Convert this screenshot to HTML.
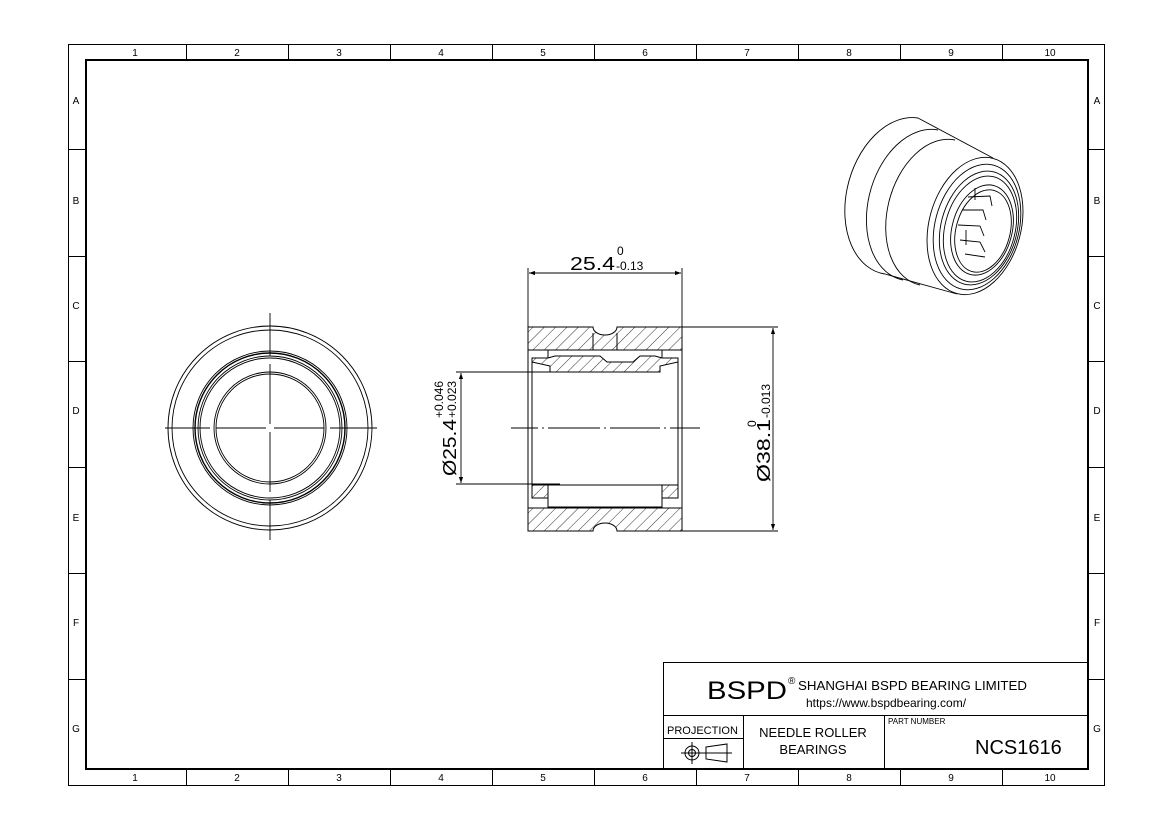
<!DOCTYPE html>
<html><head><meta charset="utf-8"><style>
html,body{margin:0;padding:0;background:#fff;}
svg{display:block;font-family:"Liberation Sans",Arial,sans-serif;}
</style></head><body>
<svg width="1170" height="827" viewBox="0 0 1170 827" xmlns="http://www.w3.org/2000/svg">
<defs>
<pattern id="h" patternUnits="userSpaceOnUse" width="8" height="8" patternTransform="rotate(45)">
<line x1="0" y1="0" x2="0" y2="8" stroke="#000" stroke-width="0.8"/>
</pattern>
<marker id="ar" viewBox="0 0 10 10" refX="10" refY="5" markerWidth="10" markerHeight="6" orient="auto-start-reverse" markerUnits="userSpaceOnUse"><path d="M0,1.5 L10,5 L0,8.5z" fill="#000"/></marker>
</defs>
<rect x="68.5" y="44.5" width="1036" height="741" fill="none" stroke="#000" stroke-width="1"/>
<rect x="86" y="60" width="1002" height="709" fill="none" stroke="#000" stroke-width="2"/>
<g stroke="#000" stroke-width="1">
<line x1="186.5" y1="44" x2="186.5" y2="60"/><line x1="288.5" y1="44" x2="288.5" y2="60"/><line x1="390.5" y1="44" x2="390.5" y2="60"/><line x1="492.5" y1="44" x2="492.5" y2="60"/><line x1="594.5" y1="44" x2="594.5" y2="60"/><line x1="696.5" y1="44" x2="696.5" y2="60"/><line x1="798.5" y1="44" x2="798.5" y2="60"/><line x1="900.5" y1="44" x2="900.5" y2="60"/><line x1="1002.5" y1="44" x2="1002.5" y2="60"/>
<line x1="186.5" y1="769" x2="186.5" y2="785"/><line x1="288.5" y1="769" x2="288.5" y2="785"/><line x1="390.5" y1="769" x2="390.5" y2="785"/><line x1="492.5" y1="769" x2="492.5" y2="785"/><line x1="594.5" y1="769" x2="594.5" y2="785"/><line x1="696.5" y1="769" x2="696.5" y2="785"/><line x1="798.5" y1="769" x2="798.5" y2="785"/><line x1="900.5" y1="769" x2="900.5" y2="785"/><line x1="1002.5" y1="769" x2="1002.5" y2="785"/>
<line x1="68" y1="149.5" x2="86" y2="149.5"/><line x1="68" y1="256.5" x2="86" y2="256.5"/><line x1="68" y1="361.5" x2="86" y2="361.5"/><line x1="68" y1="467.5" x2="86" y2="467.5"/><line x1="68" y1="573.5" x2="86" y2="573.5"/><line x1="68" y1="679.5" x2="86" y2="679.5"/>
<line x1="1088" y1="149.5" x2="1104" y2="149.5"/><line x1="1088" y1="256.5" x2="1104" y2="256.5"/><line x1="1088" y1="361.5" x2="1104" y2="361.5"/><line x1="1088" y1="467.5" x2="1104" y2="467.5"/><line x1="1088" y1="573.5" x2="1104" y2="573.5"/><line x1="1088" y1="679.5" x2="1104" y2="679.5"/>
</g>
<g font-size="10" text-anchor="middle">
<text x="135" y="56">1</text><text x="237" y="56">2</text><text x="339" y="56">3</text><text x="441" y="56">4</text><text x="543" y="56">5</text><text x="645" y="56">6</text><text x="747" y="56">7</text><text x="849" y="56">8</text><text x="951" y="56">9</text><text x="1050" y="56">10</text>
<text x="135" y="781">1</text><text x="237" y="781">2</text><text x="339" y="781">3</text><text x="441" y="781">4</text><text x="543" y="781">5</text><text x="645" y="781">6</text><text x="747" y="781">7</text><text x="849" y="781">8</text><text x="951" y="781">9</text><text x="1050" y="781">10</text>
<text x="76" y="104">A</text><text x="76" y="204">B</text><text x="76" y="309">C</text><text x="76" y="414">D</text><text x="76" y="521">E</text><text x="76" y="626">F</text><text x="76" y="732">G</text>
<text x="1097" y="104">A</text><text x="1097" y="204">B</text><text x="1097" y="309">C</text><text x="1097" y="414">D</text><text x="1097" y="521">E</text><text x="1097" y="626">F</text><text x="1097" y="732">G</text>
</g>

<g fill="none" stroke="#000" stroke-width="0.9">
<circle cx="270" cy="428" r="102"/><circle cx="270" cy="428" r="98"/>
<circle cx="270" cy="428" r="77"/><circle cx="270" cy="428" r="75" stroke-width="1.4"/><circle cx="270" cy="428" r="72"/><circle cx="270" cy="428" r="70"/>
<circle cx="270" cy="428" r="56"/><circle cx="270" cy="428" r="54"/>
<line x1="270" y1="313" x2="270" y2="356"/><line x1="270" y1="364" x2="270" y2="424"/><line x1="270" y1="432" x2="270" y2="492"/><line x1="270" y1="500" x2="270" y2="540"/>
<line x1="165" y1="428" x2="210" y2="428"/><line x1="216" y1="428" x2="266" y2="428"/><line x1="274" y1="428" x2="324" y2="428"/><line x1="330" y1="428" x2="377" y2="428"/>
</g>

<g stroke="#000" stroke-width="1">
<path d="M528,327 H593 A12,8 0 0 0 617,327 H682 V350 H528 Z" fill="url(#h)"/>
<path d="M528,531 H593 A12,8 0 0 1 617,531 H682 V508 H528 Z" fill="url(#h)"/>
<path d="M532,358 H548 L555,356 H600 L607,362 H633 L640,356 H655 L662,358 H678 V362 L660,366 V372 H550 V366 L532,362 Z" fill="url(#h)"/>
<path d="M532,485 H548 V498 H532 Z M662,485 H678 V498 H662 Z" fill="url(#h)"/>
<line x1="593" y1="333" x2="593" y2="350"/><line x1="617" y1="333" x2="617" y2="350"/>
<line x1="528" y1="350" x2="528" y2="508"/><line x1="682" y1="350" x2="682" y2="508"/>
<line x1="532" y1="358" x2="532" y2="498"/><line x1="678" y1="358" x2="678" y2="498"/>
<line x1="548" y1="350" x2="548" y2="358"/><line x1="662" y1="350" x2="662" y2="358"/>
<rect x="548" y="485" width="114" height="22" fill="none"/>
<line x1="548" y1="498" x2="548" y2="508"/><line x1="662" y1="498" x2="662" y2="508"/>
</g>
<g stroke="#000" stroke-width="0.9">
<line x1="511" y1="428" x2="538" y2="428"/><line x1="542" y1="428" x2="544" y2="428"/><line x1="548" y1="428" x2="600" y2="428"/><line x1="604" y1="428" x2="606" y2="428"/><line x1="610" y1="428" x2="660" y2="428"/><line x1="664" y1="428" x2="666" y2="428"/><line x1="670" y1="428" x2="700" y2="428"/>
<line x1="528" y1="268" x2="528" y2="327"/><line x1="682" y1="268" x2="682" y2="327"/>
<line x1="529" y1="273" x2="681" y2="273" marker-start="url(#ar)" marker-end="url(#ar)"/>
<line x1="682" y1="327" x2="778" y2="327"/><line x1="682" y1="531" x2="778" y2="531"/>
<line x1="773" y1="328" x2="773" y2="530" marker-start="url(#ar)" marker-end="url(#ar)"/>
<line x1="456" y1="372" x2="560" y2="372"/><line x1="456" y1="484" x2="560" y2="484"/>
<line x1="461" y1="373" x2="461" y2="483" marker-start="url(#ar)" marker-end="url(#ar)"/>
</g>
<text x="570" y="270" font-size="18" textLength="45" lengthAdjust="spacingAndGlyphs">25.4</text>
<text x="617" y="255" font-size="12">0</text>
<text x="616" y="270" font-size="12">-0.13</text>
<g transform="translate(456,476) rotate(-90)"><text x="0" y="0" font-size="18" textLength="57" lengthAdjust="spacingAndGlyphs">Ø25.4</text><text x="58" y="0" font-size="12">+0.023</text><text x="58" y="-13" font-size="12">+0.046</text></g>
<g transform="translate(770,482) rotate(-90)"><text x="0" y="0" font-size="18" textLength="63" lengthAdjust="spacingAndGlyphs">Ø38.1</text><text x="64" y="0" font-size="12">-0.013</text><text x="55" y="-14" font-size="12">0</text></g>

<g fill="none" stroke="#000" stroke-width="0.9">
<path d="M918,118 A52,76 15 0 0 885,274"/>
<path d="M938,130 A50,74 15 0 0 903,280"/>
<path d="M955,140 A48,72 15 0 0 920,285"/>
<line x1="918" y1="118" x2="993" y2="158"/>
<line x1="885" y1="274" x2="957" y2="294"/>
<ellipse cx="975" cy="226" rx="46" ry="70" transform="rotate(15 975 226)"/>
<ellipse cx="977" cy="227" rx="42" ry="64" transform="rotate(15 977 227)"/>
<ellipse cx="979" cy="228" rx="38" ry="58" transform="rotate(15 979 228)"/>
<ellipse cx="980" cy="229" rx="35" ry="54" transform="rotate(15 980 229)"/>
<ellipse cx="982" cy="230" rx="30" ry="46" transform="rotate(15 982 230)"/>
<ellipse cx="983" cy="231" rx="27" ry="42" transform="rotate(15 983 231)"/>
<path d="M968,197 L990,196 L992,206 M962,210 L983,210 L986,220 M958,225 L980,226 L984,236 M960,240 L980,242 L985,252 M965,254 L985,257 M975,188 L975,200 M966,230 L966,245"/>
</g>

<g fill="none" stroke="#000" stroke-width="1">
<rect x="663.5" y="662.5" width="425" height="107"/>
<line x1="663" y1="715.5" x2="1088" y2="715.5"/>
<line x1="743.5" y1="715" x2="743.5" y2="769"/>
<line x1="884.5" y1="715" x2="884.5" y2="769"/>
<line x1="663" y1="738.5" x2="743" y2="738.5"/>
<circle cx="692" cy="753" r="7"/><circle cx="692" cy="753" r="3.5"/>
<line x1="681" y1="753" x2="703" y2="753"/><line x1="692" y1="742" x2="692" y2="764"/>
<path d="M706,747 L727,744 V762 L706,759 Z"/><line x1="700" y1="753" x2="732" y2="753"/>
</g>
<text x="707" y="699" font-size="25" textLength="80" lengthAdjust="spacingAndGlyphs">BSPD</text>
<text x="788" y="684" font-size="10">®</text>
<text x="798" y="690" font-size="13" textLength="229" lengthAdjust="spacingAndGlyphs">SHANGHAI BSPD BEARING LIMITED</text>
<text x="886" y="707" font-size="12" text-anchor="middle">https://www.bspdbearing.com/</text>
<text x="667" y="734" font-size="11">PROJECTION</text>
<text x="813" y="737" font-size="13" text-anchor="middle">NEEDLE  ROLLER</text>
<text x="813" y="754" font-size="13" text-anchor="middle">BEARINGS</text>
<text x="888" y="724" font-size="8">PART NUMBER</text>
<text x="975" y="754" font-size="20">NCS1616</text>
</svg>
</body></html>
